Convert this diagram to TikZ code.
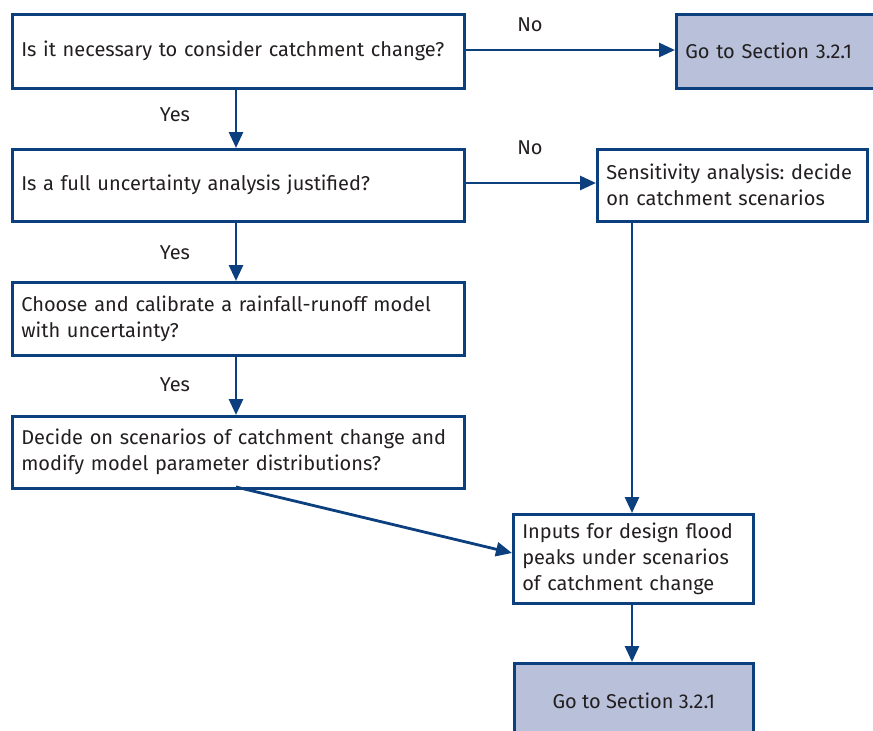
\documentclass[tikz,border=0pt]{standalone}
\usepackage{fontspec}
\setmainfont{Fira Sans}
\frenchspacing
\usetikzlibrary{arrows.meta}
\definecolor{flowblue}{HTML}{0B3F7E}
\definecolor{gofill}{HTML}{B8C0DA}
\definecolor{inktext}{HTML}{231F20}
\tikzset{
  box/.style={draw=flowblue, line width=2.6pt, anchor=north west, align=left,
    inner xsep=9pt, inner ysep=0pt, text=inktext, font=\fontsize{20}{26}\selectfont},
  gobox/.style={box, fill=gofill},
  flow/.style={draw=flowblue, line width=2.8pt, -{Triangle[length=16pt,width=14pt]}},
  lbl/.style={text=inktext, font=\fontsize{20}{22}\selectfont}
}
\begin{document}
\begin{tikzpicture}[x=1pt,y=-1pt]
\useasboundingbox (0,0) rectangle (873,731);
\clip (0,0) rectangle (873,731);
% question boxes on the left
\node[box, text width=434pt, minimum height=74pt] (q1) at (11,13) {Is it necessary to consider catchment change?};
\node[box, text width=434pt, minimum height=72pt] (q2) at (11,148) {Is a full uncertainty analysis justified?};
\node[box, text width=434pt, minimum height=73pt] (q3) at (11,281) {Choose and calibrate a rainfall-runoff model\\with uncertainty?};
\node[box, text width=434pt, minimum height=72pt] (q4) at (11,415) {Decide on scenarios of catchment change and\\modify model parameter distributions?};
% outcome boxes
\node[gobox, text width=200pt, minimum height=74pt] (go1) at (675,13) {Go to Section 3.2.1};
\node[box, text width=252pt, minimum height=72pt] (sens) at (596,148) {Sensitivity analysis: decide\\on catchment scenarios};
\node[box, text width=222pt, minimum height=89pt] (inp) at (512,513) {Inputs for design flood\\peaks under scenarios\\of catchment change};
\node[gobox, minimum width=239pt, minimum height=76pt, anchor=north west, align=center] (go2) at (513,662) {Go to Section 3.2.1};
% anchor points for the connectors
\coordinate (q1s) at (236,87);
\coordinate (q2n) at (236,148);
\coordinate (q2s) at (236,220);
\coordinate (q3n) at (236,281);
\coordinate (q3s) at (236,354);
\coordinate (q4n) at (236,415);
\coordinate (q4s) at (236,487);
\coordinate (inpw) at (512,553);
\coordinate (sensS) at (632,220);
\coordinate (inpn) at (632,513);
\coordinate (inps) at (632,602);
\coordinate (go2n) at (632,662);
% connectors
\draw[flow] (q1.east |- 0,50) -- (go1.west |- 0,50);
\draw[flow] (q2.east |- 0,183) -- (sens.west |- 0,183);
\draw[flow] (q1s) -- (q2n);
\draw[flow] (q2s) -- (q3n);
\draw[flow] (q3s) -- (q4n);
\draw[flow] (q4s) -- (inpw);
\draw[flow] (sensS) -- (inpn);
\draw[flow] (inps) -- (go2n);
% branch labels
\node[lbl] (no1) at (530,25) {No};
\node[lbl] (no2) at (530,148) {No};
\node[lbl] (yes1) at (175,115) {Yes};
\node[lbl] (yes2) at (175,253) {Yes};
\node[lbl] (yes3) at (175,385) {Yes};
\end{tikzpicture}
\end{document}
